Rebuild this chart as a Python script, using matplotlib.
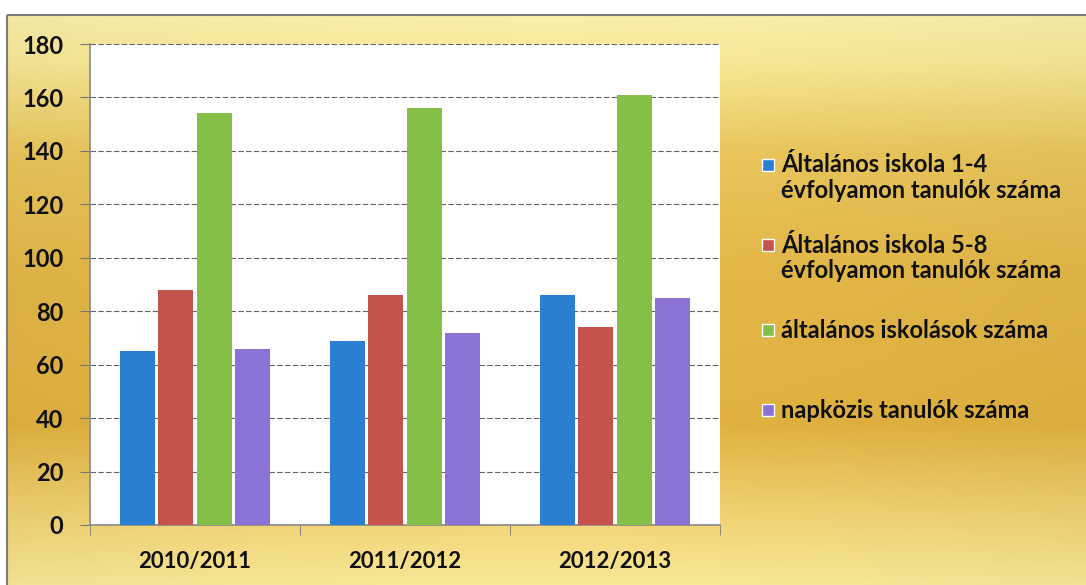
import numpy as np
import matplotlib.pyplot as plt
from matplotlib.patches import Rectangle

years = ['2010/2011', '2011/2012', '2012/2013']
labels = ['Általános iskola 1-4\névfolyamon tanulók száma',
          'Általános iskola 5-8\névfolyamon tanulók száma',
          'általános iskolások száma',
          'napközis tanulók száma']
also_1_4 = [65, 69, 86]
felso_5_8 = [88, 86, 74]
iskolasok = [154, 156, 161]
napkozis = [66, 72, 85]
values = [also_1_4, felso_5_8, iskolasok, napkozis]
colors = ['#2b7fd3', '#c6524c', '#86bf47', '#8d72d6']

W, H = 1086, 585
plt.rcParams['font.family'] = ['Lato', 'DejaVu Sans']
fig = plt.figure(figsize=(W / 100, H / 100), dpi=100)
fig.patch.set_facecolor('white')

def px(x, y):
    return x / W, 1 - y / H

# golden gradient background inside the frame
bg = fig.add_axes([0, 0, 1, 1], zorder=-5)
bg.set_xlim(0, W)
bg.set_ylim(H, 0)
bg.axis('off')
stops_y = [0.0, 0.08, 0.24, 0.45, 0.72, 0.88, 1.0]
stops_c = np.array([[250, 240, 170], [248, 232, 150], [234, 198, 92],
                    [228, 184, 72], [225, 178, 64], [241, 211, 116],
                    [249, 232, 150]]) / 255
t = np.linspace(0, 1, 200)
grad = np.stack([np.interp(t, stops_y, stops_c[:, k]) for k in range(3)], axis=1)
img = np.repeat(grad[:, None, :], 50, axis=1)
hx = np.linspace(0, 1, 50)
img = img * (0.97 + 0.03 * np.sin(np.pi * hx))[None, :, None]
img = np.clip(img, 0, 1)
bg.imshow(img, extent=[7, W, H, 15], aspect='auto')
bg.add_patch(Rectangle((7, 15), W, H, fill=False, edgecolor='#7a7a7a', lw=1.5))

ax = fig.add_axes([90 / W, 60 / H, 630 / W, 481 / H])
ax.set_facecolor('white')
x = np.arange(len(years))
bw = 0.167
step = 0.183
for i, (vals, c) in enumerate(zip(values, colors)):
    ax.bar(x + (i - 1.5) * step, vals, width=bw, color=c, zorder=3)

ax.set_xlim(-0.5, 2.5)
ax.set_ylim(0, 180)
ax.set_yticks(range(0, 181, 20))
ax.tick_params(axis='y', labelsize=17, length=7, direction='out', pad=12)
ax.set_xticks(x)
ax.set_xticklabels(years, fontsize=16, fontweight='bold')
for lbl in ax.get_yticklabels():
    lbl.set_fontweight('bold')
ax.tick_params(axis='x', length=0, pad=19, colors='#111111')
ax.tick_params(axis='y', colors='#777777', labelcolor='#111111')
ax.set_xticks([-0.5, 0.5, 1.5, 2.5], minor=True)
ax.tick_params(axis='x', which='minor', length=7, direction='out', color='#777777')
ax.grid(axis='y', color='#666666', lw=0.8, linestyle=(0, (5, 2)), zorder=1)
for s in ['top', 'right']:
    ax.spines[s].set_visible(False)
ax.spines['left'].set_color('#888888')
ax.spines['bottom'].set_color('#888888')
ax.spines['left'].set_linewidth(1.2)
ax.spines['bottom'].set_linewidth(1.2)

# legend drawn by hand to match the spacing of the original
entry_y = [165, 245, 330, 410]
for lab, c, ey in zip(labels, colors, entry_y):
    mx, my = px(762, ey - 6)
    fig.patches.append(Rectangle((mx, my - 12 / H), 12 / W, 12 / H, transform=fig.transFigure,
                                 facecolor=c, edgecolor='white', lw=1))
    for k, line in enumerate(lab.split('\n')):
        tx, ty = px(781, ey + k * 26)
        fig.text(tx, ty, line, fontsize=17, fontweight='bold', va='center', ha='left',
                 color='#111111')

fig.savefig('out.png', dpi=100)
